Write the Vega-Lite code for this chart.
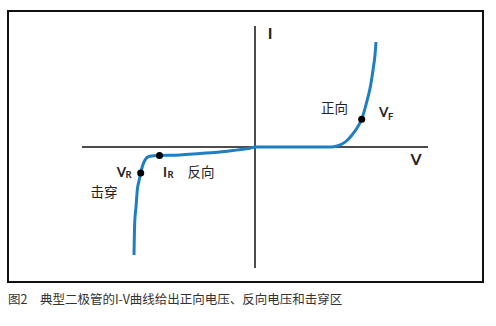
{
  "$schema": "https://vega.github.io/schema/vega-lite/v6.json",
  "width": 475,
  "height": 271,
  "autosize": {"type": "none"},
  "padding": {"left": 8, "top": 11, "right": 13, "bottom": 44},
  "background": "white",
  "config": {
    "view": {"stroke": "#111111", "strokeWidth": 2},
    "font": "Lato, Noto Sans CJK SC"
  },
  "title": {
    "text": "图2　典型二极管的I-V曲线给出正向电压、反向电压和击穿区",
    "orient": "bottom",
    "anchor": "start",
    "fontSize": 12.5,
    "fontWeight": "normal",
    "font": "Noto Sans CJK SC",
    "color": "#333333",
    "offset": 12,
    "baseline": "top"
  },
  "encoding": {
    "x": {"field": "v", "type": "quantitative", "scale": {"domain": [-247, 228], "nice": false, "zero": false}, "axis": null},
    "y": {"field": "i", "type": "quantitative", "scale": {"domain": [-135, 136], "nice": false, "zero": false}, "axis": null}
  },
  "layer": [
    {
      "data": {"values": [
        {"v": 0, "v2": 0, "i": -121, "i2": 121},
        {"v": -173, "v2": 173, "i": 0, "i2": 0}
      ]},
      "mark": {"type": "rule", "color": "#111111", "strokeWidth": 1.5},
      "encoding": {
        "x2": {"field": "v2"},
        "y2": {"field": "i2"}
      }
    },
    {
      "data": {"values": [
        {"v": -121, "i": -108},
        {"v": -120.3, "i": -76},
        {"v": -119, "i": -60},
        {"v": -117.7, "i": -43},
        {"v": -116, "i": -34},
        {"v": -114.3, "i": -26},
        {"v": -112.5, "i": -19},
        {"v": -110.5, "i": -14},
        {"v": -108, "i": -10.5},
        {"v": -105, "i": -9.2},
        {"v": -101, "i": -8.7},
        {"v": -95.5, "i": -8.5},
        {"v": -75, "i": -8},
        {"v": -55, "i": -6.5},
        {"v": -35, "i": -5},
        {"v": -22, "i": -3.5},
        {"v": -10, "i": -2},
        {"v": -5, "i": -1.2},
        {"v": 0, "i": 0},
        {"v": 40, "i": 0},
        {"v": 76, "i": 0},
        {"v": 82, "i": 1},
        {"v": 87, "i": 3},
        {"v": 92, "i": 6.5},
        {"v": 97, "i": 12},
        {"v": 102, "i": 19},
        {"v": 106.7, "i": 27.7},
        {"v": 111.7, "i": 45},
        {"v": 115.7, "i": 62},
        {"v": 118.3, "i": 79},
        {"v": 120, "i": 92},
        {"v": 121, "i": 105}
      ]},
      "mark": {"type": "line", "color": "#1f7fc1", "strokeWidth": 3, "interpolate": "monotone"}
    },
    {
      "data": {"values": [
        {"name": "VR", "v": -114.3, "i": -26},
        {"name": "IR", "v": -95.5, "i": -8.5},
        {"name": "VF", "v": 106.7, "i": 27.7}
      ]},
      "mark": {"type": "circle", "color": "#000000", "opacity": 1, "size": 50}
    },
    {
      "data": {"values": [
        {"t": "I", "v": 15, "i": 107.7},
        {"t": "V", "v": 161, "i": -18}
      ]},
      "mark": {"type": "text", "align": "center", "baseline": "alphabetic", "fontSize": 16, "fontWeight": "bold", "color": "#222222", "font": "Lato"},
      "encoding": {"text": {"field": "t"}}
    },
    {
      "data": {"values": [
        {"t": "V", "v": -138.3, "i": -30},
        {"t": "I", "v": -92, "i": -30},
        {"t": "V", "v": 124, "i": 30.3}
      ]},
      "mark": {"type": "text", "align": "left", "baseline": "alphabetic", "fontSize": 13.5, "fontWeight": "bold", "color": "#222222", "font": "Lato"},
      "encoding": {"text": {"field": "t"}}
    },
    {
      "data": {"values": [
        {"t": "R", "v": -129.5, "i": -31.3},
        {"t": "R", "v": -87.5, "i": -31.3},
        {"t": "F", "v": 133, "i": 27}
      ]},
      "mark": {"type": "text", "align": "left", "baseline": "alphabetic", "fontSize": 9.5, "fontWeight": "bold", "color": "#222222", "font": "Lato"},
      "encoding": {"text": {"field": "t"}}
    },
    {
      "data": {"values": [
        {"t": "反向", "v": -54, "i": -25.5},
        {"t": "击穿", "v": -151, "i": -45.5},
        {"t": "正向", "v": 79.5, "i": 38.5}
      ]},
      "mark": {"type": "text", "align": "center", "baseline": "middle", "fontSize": 13.5, "color": "#222222", "font": "Noto Sans CJK SC"},
      "encoding": {"text": {"field": "t"}}
    }
  ]
}
